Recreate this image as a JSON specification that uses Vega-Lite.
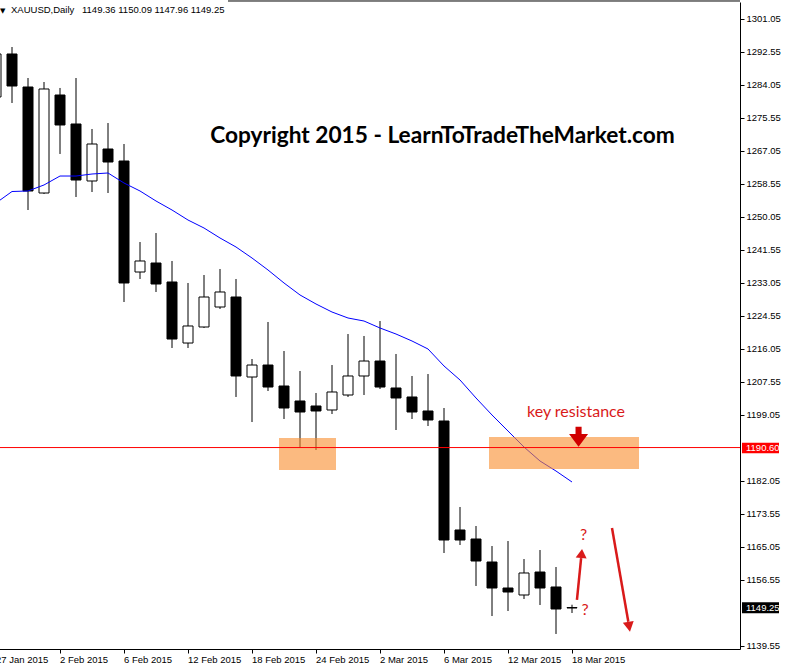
{
  "$schema": "https://vega.github.io/schema/vega-lite/v6.json",
  "width": 740,
  "height": 647,
  "autosize": "none",
  "padding": {"left": 0, "top": 2, "right": 46, "bottom": 18},
  "background": "white",
  "config": {
    "view": {"stroke": null},
    "axis": {"grid": false, "domainColor": "black", "tickColor": "black", "labelColor": "black", "labelFont": "Liberation Sans", "labelFontSize": 9.5, "domainWidth": 1, "tickWidth": 1}
  },
  "datasets": {
    "candles": [
      {"date": "27 Jan 2015", "open": 1280.95, "high": 1293.57, "low": 1280.17, "close": 1292.03, "ma": 1253.63},
      {"date": "28 Jan 2015", "open": 1292.03, "high": 1293.83, "low": 1279.40, "close": 1283.78, "ma": 1256.59},
      {"date": "29 Jan 2015", "open": 1283.52, "high": 1285.84, "low": 1251.82, "close": 1256.72, "ma": 1256.72},
      {"date": "30 Jan 2015", "open": 1256.20, "high": 1284.81, "low": 1255.95, "close": 1283.01, "ma": 1258.27},
      {"date": "2 Feb 2015", "open": 1281.46, "high": 1283.27, "low": 1266.26, "close": 1273.73, "ma": 1260.58},
      {"date": "3 Feb 2015", "open": 1273.99, "high": 1285.84, "low": 1255.17, "close": 1259.55, "ma": 1260.58},
      {"date": "4 Feb 2015", "open": 1259.30, "high": 1272.70, "low": 1256.46, "close": 1268.83, "ma": 1261.10},
      {"date": "5 Feb 2015", "open": 1267.54, "high": 1274.24, "low": 1256.20, "close": 1264.19, "ma": 1261.36},
      {"date": "6 Feb 2015", "open": 1264.45, "high": 1268.83, "low": 1228.11, "close": 1233.01, "ma": 1258.78},
      {"date": "9 Feb 2015", "open": 1235.84, "high": 1243.57, "low": 1234.04, "close": 1238.68, "ma": 1256.72},
      {"date": "10 Feb 2015", "open": 1238.16, "high": 1245.89, "low": 1230.69, "close": 1232.75, "ma": 1254.14},
      {"date": "11 Feb 2015", "open": 1233.27, "high": 1238.68, "low": 1216.26, "close": 1218.57, "ma": 1251.82},
      {"date": "12 Feb 2015", "open": 1217.54, "high": 1233.01, "low": 1216.26, "close": 1221.93, "ma": 1249.24},
      {"date": "13 Feb 2015", "open": 1221.67, "high": 1235.07, "low": 1221.41, "close": 1229.40, "ma": 1247.18},
      {"date": "16 Feb 2015", "open": 1226.82, "high": 1236.62, "low": 1226.31, "close": 1230.69, "ma": 1244.61},
      {"date": "17 Feb 2015", "open": 1229.40, "high": 1234.04, "low": 1203.63, "close": 1209.04, "ma": 1242.29},
      {"date": "18 Feb 2015", "open": 1208.78, "high": 1213.42, "low": 1197.18, "close": 1211.87, "ma": 1239.45},
      {"date": "19 Feb 2015", "open": 1211.87, "high": 1222.96, "low": 1205.17, "close": 1206.20, "ma": 1236.36},
      {"date": "20 Feb 2015", "open": 1206.46, "high": 1215.48, "low": 1197.96, "close": 1200.79, "ma": 1233.01},
      {"date": "23 Feb 2015", "open": 1202.60, "high": 1210.33, "low": 1190.48, "close": 1199.76, "ma": 1229.92},
      {"date": "24 Feb 2015", "open": 1201.31, "high": 1204.66, "low": 1189.97, "close": 1200.02, "ma": 1227.60},
      {"date": "25 Feb 2015", "open": 1200.28, "high": 1211.87, "low": 1199.24, "close": 1204.92, "ma": 1225.53},
      {"date": "26 Feb 2015", "open": 1204.14, "high": 1219.86, "low": 1203.63, "close": 1209.04, "ma": 1223.99},
      {"date": "27 Feb 2015", "open": 1209.04, "high": 1219.35, "low": 1204.14, "close": 1212.90, "ma": 1223.21},
      {"date": "2 Mar 2015", "open": 1212.90, "high": 1223.21, "low": 1205.69, "close": 1206.20, "ma": 1221.41},
      {"date": "3 Mar 2015", "open": 1205.95, "high": 1214.71, "low": 1195.12, "close": 1203.37, "ma": 1219.86},
      {"date": "4 Mar 2015", "open": 1203.63, "high": 1209.04, "low": 1197.96, "close": 1199.76, "ma": 1218.06},
      {"date": "5 Mar 2015", "open": 1200.02, "high": 1209.55, "low": 1196.15, "close": 1197.70, "ma": 1216.00},
      {"date": "6 Mar 2015", "open": 1197.44, "high": 1200.79, "low": 1163.42, "close": 1166.77, "ma": 1211.62},
      {"date": "9 Mar 2015", "open": 1169.35, "high": 1175.28, "low": 1165.48, "close": 1166.77, "ma": 1208.01},
      {"date": "10 Mar 2015", "open": 1167.03, "high": 1170.38, "low": 1154.92, "close": 1161.36, "ma": 1203.37},
      {"date": "11 Mar 2015", "open": 1161.10, "high": 1165.22, "low": 1147.18, "close": 1154.40, "ma": 1198.99},
      {"date": "12 Mar 2015", "open": 1154.40, "high": 1166.51, "low": 1148.47, "close": 1153.37, "ma": 1194.86},
      {"date": "13 Mar 2015", "open": 1152.60, "high": 1161.87, "low": 1151.57, "close": 1158.27, "ma": 1190.74},
      {"date": "16 Mar 2015", "open": 1158.52, "high": 1164.19, "low": 1150.02, "close": 1154.40, "ma": 1187.13},
      {"date": "17 Mar 2015", "open": 1154.66, "high": 1159.81, "low": 1142.55, "close": 1148.99, "ma": 1184.55},
      {"date": "18 Mar 2015", "open": 1149.36, "high": 1150.09, "low": 1147.96, "close": 1149.25, "ma": 1181.72}
    ]
  },
  "layer": [
    {
      "data": {"name": "candles"},
      "encoding": {
        "x": {
          "field": "date", "type": "ordinal",
          "scale": {
            "type": "band",
            "domain": ["27 Jan 2015","28 Jan 2015","29 Jan 2015","30 Jan 2015","2 Feb 2015","3 Feb 2015","4 Feb 2015","5 Feb 2015","6 Feb 2015","9 Feb 2015","10 Feb 2015","11 Feb 2015","12 Feb 2015","13 Feb 2015","16 Feb 2015","17 Feb 2015","18 Feb 2015","19 Feb 2015","20 Feb 2015","23 Feb 2015","24 Feb 2015","25 Feb 2015","26 Feb 2015","27 Feb 2015","2 Mar 2015","3 Mar 2015","4 Mar 2015","5 Mar 2015","6 Mar 2015","9 Mar 2015","10 Mar 2015","11 Mar 2015","12 Mar 2015","13 Mar 2015","16 Mar 2015","17 Mar 2015","18 Mar 2015","19 Mar 2015","20 Mar 2015","23 Mar 2015","24 Mar 2015","25 Mar 2015","26 Mar 2015","27 Mar 2015","30 Mar 2015","31 Mar 2015","1 Apr 2015"],
            "range": [-12, 740],
            "paddingInner": 0,
            "paddingOuter": 0
          },
          "axis": {
            "orient": "bottom", "title": null,
            "values": ["27 Jan 2015","2 Feb 2015","6 Feb 2015","12 Feb 2015","18 Feb 2015","24 Feb 2015","2 Mar 2015","6 Mar 2015","12 Mar 2015","18 Mar 2015"],
            "bandPosition": 0.5, "tickSize": 4, "labelAngle": 0, "labelAlign": "left", "labelBaseline": "top", "labelPadding": 1,
            "labelOverlap": false, "labelFlush": false, "labelBound": false
          }
        }
      },
      "layer": [
        {
          "mark": {"type": "rule", "color": "black", "strokeWidth": 1},
          "encoding": {
            "y": {"field": "low", "type": "quantitative", "title": null, "scale": {"domain": [1138.68, 1305.43], "nice": false, "zero": false},
              "axis": {"orient": "right", "title": null, "format": ".2f", "values": [1301.05, 1292.55, 1284.05, 1275.55, 1267.05, 1258.55, 1250.05, 1241.55, 1233.05, 1224.55, 1216.05, 1207.55, 1199.05, 1182.05, 1173.55, 1165.05, 1156.55, 1139.55], "tickSize": 4, "labelPadding": 2, "labelOverlap": false, "labelBound": false, "labelFlush": false}},
            "y2": {"field": "high"}
          }
        },
        {
          "mark": {"type": "bar", "size": 10, "stroke": "black", "strokeWidth": 1},
          "encoding": {
            "y": {"field": "open", "type": "quantitative", "title": null, "scale": {"domain": [1138.68, 1305.43], "nice": false, "zero": false},
              "axis": {"orient": "right", "title": null, "format": ".2f", "values": [1301.05, 1292.55, 1284.05, 1275.55, 1267.05, 1258.55, 1250.05, 1241.55, 1233.05, 1224.55, 1216.05, 1207.55, 1199.05, 1182.05, 1173.55, 1165.05, 1156.55, 1139.55], "tickSize": 4, "labelPadding": 2, "labelOverlap": false, "labelBound": false, "labelFlush": false}},
            "y2": {"field": "close"},
            "fill": {"condition": {"test": "datum.close > datum.open", "value": "white"}, "value": "black"}
          }
        },
        {
          "mark": {"type": "line", "color": "#0000FF", "strokeWidth": 1},
          "encoding": {
            "y": {"field": "ma", "type": "quantitative", "title": null, "scale": {"domain": [1138.68, 1305.43], "nice": false, "zero": false},
              "axis": {"orient": "right", "title": null, "format": ".2f", "values": [1301.05, 1292.55, 1284.05, 1275.55, 1267.05, 1258.55, 1250.05, 1241.55, 1233.05, 1224.55, 1216.05, 1207.55, 1199.05, 1182.05, 1173.55, 1165.05, 1156.55, 1139.55], "tickSize": 4, "labelPadding": 2, "labelOverlap": false, "labelBound": false, "labelFlush": false}}
          }
        }
      ]
    },
    {
      "layer": [
        {
          "data": {"values": [
            {"from_bar": 17.6875, "to_bar": 21.25, "top": 1193.06, "bottom": 1184.81},
            {"from_bar": 30.8125, "to_bar": 40.1875, "top": 1193.31, "bottom": 1185.07}
          ]},
          "mark": {"type": "rect", "fill": "#F98C2C", "opacity": 0.6},
          "encoding": {
            "x": {"field": "from_bar", "type": "quantitative", "scale": {"domain": [0.25, 46.5], "nice": false, "zero": false}, "axis": null},
            "x2": {"field": "to_bar"},
            "y": {"field": "top", "type": "quantitative", "title": null, "scale": {"domain": [1138.68, 1305.43], "nice": false, "zero": false},
              "axis": {"orient": "right", "title": null, "format": ".2f", "values": [1301.05, 1292.55, 1284.05, 1275.55, 1267.05, 1258.55, 1250.05, 1241.55, 1233.05, 1224.55, 1216.05, 1207.55, 1199.05, 1182.05, 1173.55, 1165.05, 1156.55, 1139.55], "tickSize": 4, "labelPadding": 2, "labelOverlap": false, "labelBound": false, "labelFlush": false}},
            "y2": {"field": "bottom"}
          }
        },
        {
          "data": {"values": [{"level": 1190.60}]},
          "mark": {"type": "rule", "color": "#FF0000", "strokeWidth": 1},
          "encoding": {
            "y": {"field": "level", "type": "quantitative", "title": null, "scale": {"domain": [1138.68, 1305.43], "nice": false, "zero": false},
              "axis": {"orient": "right", "title": null, "format": ".2f", "values": [1301.05, 1292.55, 1284.05, 1275.55, 1267.05, 1258.55, 1250.05, 1241.55, 1233.05, 1224.55, 1216.05, 1207.55, 1199.05, 1182.05, 1173.55, 1165.05, 1156.55, 1139.55], "tickSize": 4, "labelPadding": 2, "labelOverlap": false, "labelBound": false, "labelFlush": false}}
          }
        },
        {
          "data": {"values": [{"from_bar": 14.5, "to_bar": 46.5, "price": 1305.69}]},
          "mark": {"type": "rule", "color": "black", "strokeWidth": 1},
          "encoding": {
            "x": {"field": "from_bar", "type": "quantitative", "scale": {"domain": [0.25, 46.5], "nice": false, "zero": false}, "axis": null},
            "x2": {"field": "to_bar"},
            "y": {"field": "price", "type": "quantitative", "title": null, "scale": {"domain": [1138.68, 1305.43], "nice": false, "zero": false},
              "axis": {"orient": "right", "title": null, "format": ".2f", "values": [1301.05, 1292.55, 1284.05, 1275.55, 1267.05, 1258.55, 1250.05, 1241.55, 1233.05, 1224.55, 1216.05, 1207.55, 1199.05, 1182.05, 1173.55, 1165.05, 1156.55, 1139.55], "tickSize": 4, "labelPadding": 2, "labelOverlap": false, "labelBound": false, "labelFlush": false}}
          }
        },
        {
          "data": {"values": [
            {"from_bar": 36.31, "to_bar": 36.57, "from_price": 1151.31, "to_price": 1162.13},
            {"from_bar": 38.5, "to_bar": 39.52, "from_price": 1169.86, "to_price": 1145.69}
          ]},
          "mark": {"type": "rule", "color": "#D91A1A", "strokeWidth": 2.5},
          "encoding": {
            "x": {"field": "from_bar", "type": "quantitative", "scale": {"domain": [0.25, 46.5], "nice": false, "zero": false}, "axis": null},
            "x2": {"field": "to_bar"},
            "y": {"field": "from_price", "type": "quantitative", "title": null, "scale": {"domain": [1138.68, 1305.43], "nice": false, "zero": false},
              "axis": {"orient": "right", "title": null, "format": ".2f", "values": [1301.05, 1292.55, 1284.05, 1275.55, 1267.05, 1258.55, 1250.05, 1241.55, 1233.05, 1224.55, 1216.05, 1207.55, 1199.05, 1182.05, 1173.55, 1165.05, 1156.55, 1139.55], "tickSize": 4, "labelPadding": 2, "labelOverlap": false, "labelBound": false, "labelFlush": false}},
            "y2": {"field": "to_price"}
          }
        },
        {
          "data": {"values": [{"bar": 36.60, "price": 1163.29}]},
          "mark": {"type": "point", "shape": "M0,-0.82L1,0.82L-1,0.82Z", "size": 121, "filled": true, "opacity": 1, "color": "#D91A1A", "angle": 5.6},
          "encoding": {
            "x": {"field": "bar", "type": "quantitative", "scale": {"domain": [0.25, 46.5], "nice": false, "zero": false}, "axis": null},
            "y": {"field": "price", "type": "quantitative", "title": null, "scale": {"domain": [1138.68, 1305.43], "nice": false, "zero": false},
              "axis": {"orient": "right", "title": null, "format": ".2f", "values": [1301.05, 1292.55, 1284.05, 1275.55, 1267.05, 1258.55, 1250.05, 1241.55, 1233.05, 1224.55, 1216.05, 1207.55, 1199.05, 1182.05, 1173.55, 1165.05, 1156.55, 1139.55], "tickSize": 4, "labelPadding": 2, "labelOverlap": false, "labelBound": false, "labelFlush": false}}
          }
        },
        {
          "data": {"values": [{"bar": 39.57, "price": 1144.40}]},
          "mark": {"type": "point", "shape": "M0,-0.91L1,0.91L-1,0.91Z", "size": 121, "filled": true, "opacity": 1, "color": "#D91A1A", "angle": 170.2},
          "encoding": {
            "x": {"field": "bar", "type": "quantitative", "scale": {"domain": [0.25, 46.5], "nice": false, "zero": false}, "axis": null},
            "y": {"field": "price", "type": "quantitative", "title": null, "scale": {"domain": [1138.68, 1305.43], "nice": false, "zero": false},
              "axis": {"orient": "right", "title": null, "format": ".2f", "values": [1301.05, 1292.55, 1284.05, 1275.55, 1267.05, 1258.55, 1250.05, 1241.55, 1233.05, 1224.55, 1216.05, 1207.55, 1199.05, 1182.05, 1173.55, 1165.05, 1156.55, 1139.55], "tickSize": 4, "labelPadding": 2, "labelOverlap": false, "labelBound": false, "labelFlush": false}}
          }
        },
        {
          "data": {"values": [{"bar": 36.41, "price": 1193.40}]},
          "mark": {"type": "point", "shape": "M-0.32,-1.05L0.32,-1.05L0.32,-0.28L1,-0.28L0,1.05L-1,-0.28L-0.32,-0.28Z", "size": 361, "filled": true, "opacity": 1, "color": "#D00000"},
          "encoding": {
            "x": {"field": "bar", "type": "quantitative", "scale": {"domain": [0.25, 46.5], "nice": false, "zero": false}, "axis": null},
            "y": {"field": "price", "type": "quantitative", "title": null, "scale": {"domain": [1138.68, 1305.43], "nice": false, "zero": false},
              "axis": {"orient": "right", "title": null, "format": ".2f", "values": [1301.05, 1292.55, 1284.05, 1275.55, 1267.05, 1258.55, 1250.05, 1241.55, 1233.05, 1224.55, 1216.05, 1207.55, 1199.05, 1182.05, 1173.55, 1165.05, 1156.55, 1139.55], "tickSize": 4, "labelPadding": 2, "labelOverlap": false, "labelBound": false, "labelFlush": false}}
          }
        },
        {
          "data": {"values": [
            {"from_bar": 46.625, "to_bar": 48.9375, "top": 1150.71, "bottom": 1147.88, "tag": "last price"},
            {"from_bar": 46.625, "to_bar": 48.9375, "top": 1191.85, "bottom": 1189.12, "tag": "resistance"}
          ]},
          "mark": {"type": "rect"},
          "encoding": {
            "x": {"field": "from_bar", "type": "quantitative", "scale": {"domain": [0.25, 46.5], "nice": false, "zero": false}, "axis": null},
            "x2": {"field": "to_bar"},
            "y": {"field": "top", "type": "quantitative", "title": null, "scale": {"domain": [1138.68, 1305.43], "nice": false, "zero": false},
              "axis": {"orient": "right", "title": null, "format": ".2f", "values": [1301.05, 1292.55, 1284.05, 1275.55, 1267.05, 1258.55, 1250.05, 1241.55, 1233.05, 1224.55, 1216.05, 1207.55, 1199.05, 1182.05, 1173.55, 1165.05, 1156.55, 1139.55], "tickSize": 4, "labelPadding": 2, "labelOverlap": false, "labelBound": false, "labelFlush": false}},
            "y2": {"field": "bottom"},
            "fill": {"field": "tag", "type": "nominal", "scale": {"domain": ["last price", "resistance"], "range": ["#000000", "#FF0000"]}, "legend": null}
          }
        },
        {
          "data": {"values": [
            {"bar": 46.875, "price": 1149.25, "label": "1149.25"},
            {"bar": 46.875, "price": 1190.60, "label": "1190.60"}
          ]},
          "mark": {"type": "text", "font": "Liberation Sans", "fontSize": 9.5, "color": "white", "align": "left", "baseline": "middle"},
          "encoding": {
            "x": {"field": "bar", "type": "quantitative", "scale": {"domain": [0.25, 46.5], "nice": false, "zero": false}, "axis": null},
            "y": {"field": "price", "type": "quantitative", "title": null, "scale": {"domain": [1138.68, 1305.43], "nice": false, "zero": false},
              "axis": {"orient": "right", "title": null, "format": ".2f", "values": [1301.05, 1292.55, 1284.05, 1275.55, 1267.05, 1258.55, 1250.05, 1241.55, 1233.05, 1224.55, 1216.05, 1207.55, 1199.05, 1182.05, 1173.55, 1165.05, 1156.55, 1139.55], "tickSize": 4, "labelPadding": 2, "labelOverlap": false, "labelBound": false, "labelFlush": false}},
            "text": {"field": "label"}
          }
        },
        {
          "data": {"values": [{"bar": 27.906, "price": 1269.09, "label": "Copyright 2015 - LearnToTradeTheMarket.com"}]},
          "mark": {"type": "text", "font": "Lato", "fontWeight": "bold", "fontSize": 22.7, "color": "black", "align": "center", "baseline": "alphabetic"},
          "encoding": {
            "x": {"field": "bar", "type": "quantitative", "scale": {"domain": [0.25, 46.5], "nice": false, "zero": false}, "axis": null},
            "y": {"field": "price", "type": "quantitative", "title": null, "scale": {"domain": [1138.68, 1305.43], "nice": false, "zero": false},
              "axis": {"orient": "right", "title": null, "format": ".2f", "values": [1301.05, 1292.55, 1284.05, 1275.55, 1267.05, 1258.55, 1250.05, 1241.55, 1233.05, 1224.55, 1216.05, 1207.55, 1199.05, 1182.05, 1173.55, 1165.05, 1156.55, 1139.55], "tickSize": 4, "labelPadding": 2, "labelOverlap": false, "labelBound": false, "labelFlush": false}},
            "text": {"field": "label"}
          }
        },
        {
          "data": {"values": [
            {"bar": 36.25, "price": 1198.47, "label": "key resistance"},
            {"bar": 36.72, "price": 1166.77, "label": "?"},
            {"bar": 36.81, "price": 1147.44, "label": "?"}
          ]},
          "mark": {"type": "text", "font": "Lato", "fontSize": 16, "color": "#D91A1A", "align": "center", "baseline": "alphabetic"},
          "encoding": {
            "x": {"field": "bar", "type": "quantitative", "scale": {"domain": [0.25, 46.5], "nice": false, "zero": false}, "axis": null},
            "y": {"field": "price", "type": "quantitative", "title": null, "scale": {"domain": [1138.68, 1305.43], "nice": false, "zero": false},
              "axis": {"orient": "right", "title": null, "format": ".2f", "values": [1301.05, 1292.55, 1284.05, 1275.55, 1267.05, 1258.55, 1250.05, 1241.55, 1233.05, 1224.55, 1216.05, 1207.55, 1199.05, 1182.05, 1173.55, 1165.05, 1156.55, 1139.55], "tickSize": 4, "labelPadding": 2, "labelOverlap": false, "labelBound": false, "labelFlush": false}},
            "text": {"field": "label"}
          }
        },
        {
          "data": {"values": [
            {"bar": 0.9375, "price": 1302.60, "label": "XAUUSD,Daily"},
            {"bar": 5.375, "price": 1302.60, "label": "1149.36 1150.09 1147.96 1149.25"}
          ]},
          "mark": {"type": "text", "font": "Liberation Sans", "fontSize": 9.5, "color": "black", "align": "left", "baseline": "alphabetic"},
          "encoding": {
            "x": {"field": "bar", "type": "quantitative", "scale": {"domain": [0.25, 46.5], "nice": false, "zero": false}, "axis": null},
            "y": {"field": "price", "type": "quantitative", "title": null, "scale": {"domain": [1138.68, 1305.43], "nice": false, "zero": false},
              "axis": {"orient": "right", "title": null, "format": ".2f", "values": [1301.05, 1292.55, 1284.05, 1275.55, 1267.05, 1258.55, 1250.05, 1241.55, 1233.05, 1224.55, 1216.05, 1207.55, 1199.05, 1182.05, 1173.55, 1165.05, 1156.55, 1139.55], "tickSize": 4, "labelPadding": 2, "labelOverlap": false, "labelBound": false, "labelFlush": false}},
            "text": {"field": "label"}
          }
        },
        {
          "data": {"values": [{"bar": 0.425, "price": 1302.70, "label": "▼"}]},
          "mark": {"type": "text", "font": "DejaVu Sans", "fontSize": 7, "color": "black", "align": "center", "baseline": "alphabetic"},
          "encoding": {
            "x": {"field": "bar", "type": "quantitative", "scale": {"domain": [0.25, 46.5], "nice": false, "zero": false}, "axis": null},
            "y": {"field": "price", "type": "quantitative", "title": null, "scale": {"domain": [1138.68, 1305.43], "nice": false, "zero": false},
              "axis": {"orient": "right", "title": null, "format": ".2f", "values": [1301.05, 1292.55, 1284.05, 1275.55, 1267.05, 1258.55, 1250.05, 1241.55, 1233.05, 1224.55, 1216.05, 1207.55, 1199.05, 1182.05, 1173.55, 1165.05, 1156.55, 1139.55], "tickSize": 4, "labelPadding": 2, "labelOverlap": false, "labelBound": false, "labelFlush": false}},
            "text": {"field": "label"}
          }
        }
      ]
    }
  ],
  "resolve": {"scale": {"x": "independent"}}
}
